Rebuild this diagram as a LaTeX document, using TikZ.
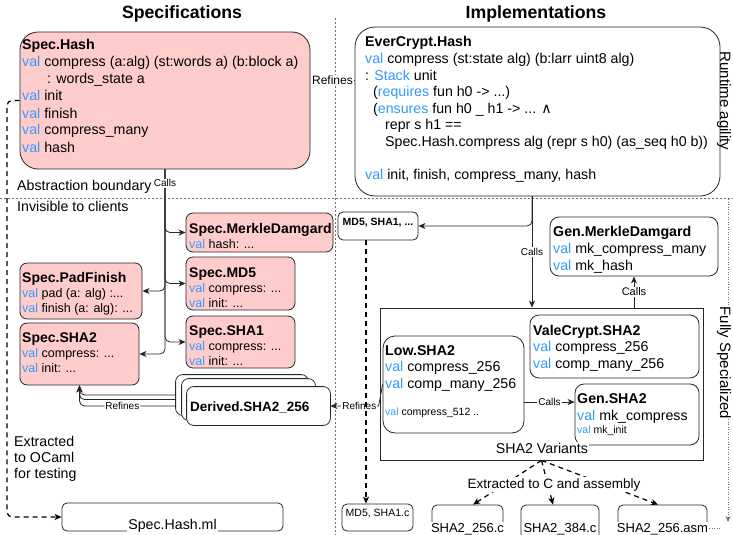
\documentclass[tikz,border=0pt]{standalone}
\usepackage{fontspec}
\setmainfont{Liberation Sans}
\newfontfamily\djv{DejaVu Sans}
\usetikzlibrary{arrows.meta,fit,calc}
\definecolor{pinkfill}{RGB}{255,204,204}
\definecolor{valblue}{RGB}{51,153,255}
\definecolor{bndgray}{RGB}{110,110,110}
\newcommand{\vl}{\textcolor{valblue}{val}}
\newcommand{\kwd}[1]{\textcolor{valblue}{#1}}
\newcommand{\blk}[1]{\begin{tabular}[t]{@{}l@{}}#1\end{tabular}}
\newcommand{\ttl}[1]{{\fontsize{14}{15}\selectfont\bfseries #1}}
\begin{document}
\begin{tikzpicture}[x=1pt,y=-1pt,
 box/.style={draw=black!85, line width=0.8pt, rounded corners=#1, inner sep=0pt, fill=white},
 box/.default=8pt,
 spec/.style={box=#1, fill=pinkfill},
 spec/.default=8pt,
 txt/.style={inner sep=0pt, anchor=base west, font=\fontsize{14.2}{17}\selectfont},
 stxt/.style={inner sep=0pt, anchor=base west, font=\fontsize{12.5}{15}\selectfont},
 smtxt/.style={inner sep=0pt, anchor=base west, font=\fontsize{10.5}{12}\selectfont},
 lbl/.style={fill=white, inner sep=1pt, font=\fontsize{10}{12}\selectfont},
 conn/.style={line width=0.8pt, draw=black!85, -{Stealth[length=7pt,width=6pt,inset=2pt]}},
 xdash/.style={conn, draw=black, line width=1.2pt, dash pattern=on 5pt off 4pt},
 bound/.style={draw=bndgray, line width=0.8pt, dash pattern=on 2pt off 2pt},
 fname/.style={fill=white, inner sep=1pt, anchor=base, font=\fontsize{13}{15}\selectfont},
 ttlstyle/.style={anchor=base, inner sep=0pt, font=\fontsize{17.7}{20}\selectfont\bfseries},
 sidetxt/.style={rotate=-90, inner sep=0pt, font=\fontsize{15}{17}\selectfont},
]
\useasboundingbox (0,0) rectangle (733,535);

% boundaries
\draw[bound] (0,198.5) -- (733,198.5);
\draw[bound] (335.5,18) -- (335.5,535);

% titles
\node[ttlstyle] (tspec) at (182,18.5) {Specifications};
\node[ttlstyle] (timpl) at (536,18.5) {Implementations};

% ---------- Specification side ----------
\node[spec=18pt, fit={(20,32) (310,169)}] (hash) {};
\node[txt] (hashT) at (22,50) {\blk{\textbf{Spec.Hash}\\
\vl{} compress (a:alg) (st:words a) (b:block a)\\
\hspace{25pt}: words\_state a\\
\vl{} init\\
\vl{} finish\\
\vl{} compress\_many\\
\vl{} hash}};

\node[spec=7pt, fit={(186,213) (333,252)}] (smd) {};
\node[stxt] (smdT) at (189,233) {\blk{\ttl{Spec.MerkleDamgard}\\ \vl{} hash: ...}};

\node[spec=7pt, fit={(186,257) (295,310)}] (smd5) {};
\node[stxt] (smd5T) at (189,277) {\blk{\ttl{Spec.MD5}\\ \vl{} compress: ...\\ \vl{} init: ...}};

\node[spec=7pt, fit={(186,316) (295,368)}] (ssha1) {};
\node[stxt] (ssha1T) at (189,335) {\blk{\ttl{Spec.SHA1}\\ \vl{} compress: ...\\ \vl{} init: ...}};

\node[spec=7pt, fit={(20,263) (142,319)}] (spad) {};
\node[stxt] (spadT) at (22,282) {\blk{\ttl{Spec.PadFinish}\\ \vl{} pad (a: alg) :...\\ \vl{} finish (a: alg): ...}};

\node[spec=7pt, fit={(20,323) (139,385)}] (ssha2) {};
\node[stxt] (ssha2T) at (22,342) {\blk{\ttl{Spec.SHA2}\\ \vl{} compress: ...\\ \vl{} init: ...}};

% calls from Spec.Hash
\draw[conn, rounded corners=5pt] (hash.south) |- (smd.west);
\draw[conn, rounded corners=5pt] (hash.south) |- (smd5.west);
\draw[conn, rounded corners=5pt] (hash.south) |- (ssha1.west);
\draw[conn, rounded corners=5pt] (hash.south) |- (spad.east);
\draw[conn, rounded corners=5pt] (hash.south) |- (ssha2.east);
\node[lbl] (callsA) at ([yshift=-14]hash.south) {Calls};

% Derived stack (connectors first, boxes over them)
\node[box=7pt, draw=none, fill=none, fit={(176,375) (308,415)}] (d1) {};
\node[box=7pt, draw=none, fill=none, fit={(182,379) (315,420)}] (d2) {};
\node[box=7pt, draw=none, fill=none, fit={(187,387) (330,425)}] (d3) {};
\draw[conn, rounded corners=5pt] (d1.west) -| (ssha2.south);
\draw[conn, rounded corners=5pt] (d2.west) -| (ssha2.south);
\draw[conn, rounded corners=5pt] (d3.west) -| node[lbl, pos=0.3]{Refines} (ssha2.south);
\draw[box=7pt] (d1.north west) rectangle (d1.south east);
\draw[box=7pt] (d2.north west) rectangle (d2.south east);
\draw[box=7pt] (d3.north west) rectangle (d3.south east);
\node[inner sep=0pt, anchor=base west, font=\fontsize{13.5}{16}\selectfont\bfseries] (d3T) at (190,411) {Derived.SHA2\_256};

% Extracted to OCaml
\node[box=5pt, fit={(62,503) (283,531)}] (hml) {};
\coordinate (ocbend) at (7,300);
\draw[xdash, rounded corners=5pt] (hash.west) -| (ocbend) |- (hml.west);
\node[txt, font=\fontsize{14.2}{16}\selectfont] (ocT) at (14,446) {\blk{Extracted\\ to OCaml\\ for testing}};
\node[fill=white, inner sep=1pt, anchor=base, font=\fontsize{14.2}{16}\selectfont] (hmlT) at (hml.center |- 0,529) {Spec.Hash.ml};

\node[txt, anchor=base west] (absT) at (17,190) {Abstraction boundary};
\node[txt, anchor=base west] (invT) at (17,211) {Invisible to clients};

% ---------- Implementation side ----------
\node[box=20pt, fit={(355,27) (720,196)}] (ever) {};
\node[txt, font=\fontsize{14.2}{16.6}\selectfont] (everT) at (365,47) {\blk{\textbf{EverCrypt.Hash}\\
\vl{} compress (st:state alg) (b:larr uint8 alg)\\
: \kwd{Stack} unit\\
\hspace{8pt}(\kwd{requires} fun h0 -> ...)\\
\hspace{8pt}(\kwd{ensures} fun h0 \_ h1 -> ... {\djv ∧}\\
\hspace{20pt}repr s h1 ==\\
\hspace{20pt}Spec.Hash.compress alg (repr s h0) (as\_seq h0 b))\\
\\
\vl{} init, finish, compress\_many, hash}};

\draw[conn] ([yshift=31.5]ever.west) -- node[lbl, font=\fontsize{12}{14}\selectfont]{Refines} ([yshift=31.5]ever.west -| hash.east);

\node[box=5pt, fit={(338,212) (418,240)}, font=\fontsize{10.5}{12}\selectfont\bfseries] (mds) {MD5, SHA1, ...};

\node[box=9pt, fit={(550,217) (718,276)}] (gmd) {};
\node[txt] (gmdT) at (553,236) {\blk{\textbf{Gen.MerkleDamgard}\\ \vl{} mk\_compress\_many\\ \vl{} mk\_hash}};

\node[box=0pt, fit={(380,308) (703,460)}] (var) {};

\node[box=9pt, fit={(530,315) (699,378)}] (vale) {};
\node[txt, font=\fontsize{14.2}{16.5}\selectfont] (valeT) at (533,335) {\blk{\textbf{ValeCrypt.SHA2}\\ \vl{} compress\_256\\ \vl{} comp\_many\_256}};

\node[box=12pt, fit={(383,336) (524,433)}] (low) {};
\node[txt, font=\fontsize{14.2}{16.6}\selectfont] (lowT) at (385,355) {\blk{\textbf{Low.SHA2}\\ \vl{} compress\_256\\ \vl{} comp\_many\_256}};
\node[smtxt] (lowT2) at (385,415) {\vl{} compress\_512 ..};

\node[box=9pt, fit={(575,384) (699,445)}] (gsha) {};
\node[txt] (gshaT) at (577,403) {\blk{\textbf{Gen.SHA2}\\ \vl{} mk\_compress}};
\node[smtxt] (gshaT2) at (577,433) {\vl{} mk\_init};

\node[fill=white, inner sep=1pt, anchor=base, font=\fontsize{14.2}{16}\selectfont] (varT) at (542,453) {SHA2 Variants};

% connectors implementation side
\draw[conn, rounded corners=5pt] ([xshift=-5.5]ever.south) |- (mds.east);
\draw[conn] ([xshift=-5.5]ever.south) -- node[lbl]{Calls} ([xshift=-5.5]ever.south |- var.north);
\draw[conn] (gmd.south |- var.north) -- node[lbl, font=\fontsize{11}{13}\selectfont]{Calls} (gmd.south);
\draw[conn] ([yshift=-17.5]low.east) -- node[lbl]{Calls} ([yshift=-17.5]low.east -| gsha.west);
\draw[conn] (low.west) -- ([xshift=-4pt]low.west |- d3.east) -- node[lbl, pos=0.4]{Refines} (d3.east);

% output files
\node[box=5pt, fit={(342,504) (413,531)}, font=\fontsize{10.5}{12}\selectfont] (mdc) {MD5, SHA1.c};
\node[box=5pt, fit={(432,505) (503,548)}] (c256) {};
\node[box=5pt, fit={(521,505) (599,548)}] (c384) {};
\node[box=5pt, fit={(618,505) (707,548)}] (casm) {};
\node[fname] (c256T) at (c256.center |- 0,532) {SHA2\_256.c};
\node[fname] (c384T) at (c384.center |- 0,532) {SHA2\_384.c};
\node[fname] (casmT) at (casm.center |- 0,532) {SHA2\_256.asm};

\draw[xdash] ([xshift=-12]mds.south) -- ([xshift=-12]mds.south |- mdc.north);
\draw[xdash] (var.south) -- ([xshift=5.5]c256.north);
\draw[xdash] (var.south) -- ([xshift=-7]c384.north);
\draw[xdash] (var.south) -- ([xshift=-4.5]casm.north);
\node[fill=white, inner sep=1pt, anchor=base, font=\fontsize{13.5}{16}\selectfont] (extT) at (554,488) {Extracted to C and assembly};

% side annotations
\node[sidetxt] (rtT) at (724,101) {Runtime agility};
\coordinate (fsTop) at (728,199);
\coordinate (fsBot) at (728,522);
\draw[draw=bndgray, line width=0.7pt, dash pattern=on 1pt off 1.5pt, -{Stealth[length=6pt,width=5pt]}] (fsTop) -- (fsBot);
\node[sidetxt, fill=white] (fsT) at (724,363) {Fully Specialized};
\draw[draw=bndgray, line width=0.7pt, dash pattern=on 1pt off 1.5pt] (casmT.east) -- ++(11,0);
\end{tikzpicture}
\end{document}
